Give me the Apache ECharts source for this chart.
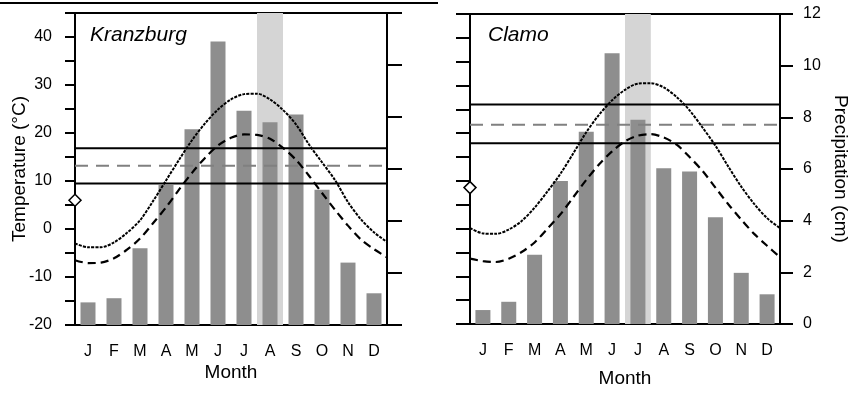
<!DOCTYPE html>
<html><head><meta charset="utf-8">
<script src="https://cdn.jsdelivr.net/npm/echarts@6/dist/echarts.min.js"></script>
<style>html,body{margin:0;padding:0;background:#fff}#c{width:851px;height:393px}</style>
</head><body><div id="c"></div>
<script>
// ---- data ----
const months = ['J','F','M','A','M','J','J','A','S','O','N','D'];
// month positions (1 = J centre) at which the curves were read, every half month
const curveX = [0.5,1,1.5,2,2.5,3,3.5,4,4.5,5,5.5,6,6.5,7,7.5,8,8.5,9,9.5,10,10.5,11,11.5,12,12.5];

const kranzName = 'Kranzburg';
const kranzPrecip = [0.87,1.03,2.95,5.38,7.53,10.9,8.24,7.8,8.1,5.2,2.4,1.22];
const kranzMax = [-3.0,-3.8,-3.8,-2.8,-0.8,1.8,5.8,10.1,14.4,18.5,22.0,24.9,27.0,28.1,28.2,27.0,24.8,21.8,17.6,13.9,10.2,5.6,2.0,-0.7,-2.7];
const kranzMin = [-6.5,-7.1,-7.0,-6.1,-4.3,-2.0,1.2,4.5,8.2,11.7,14.8,17.4,19.0,19.7,19.6,18.8,16.9,14.4,11.1,7.5,4.0,0.7,-2.2,-4.2,-5.9];
const kranzLines = [16.8,13.2,9.5];       // upper solid, dashed, lower solid
const kranzDiamond = 6.0;
const kranzHighlight = 7;                 // August

const clamoName = 'Clamo';
const clamoPrecip = [0.54,0.86,2.68,5.54,7.44,10.48,7.91,6.03,5.9,4.13,1.98,1.15];
const clamoMax = [0.1,-1.0,-1.1,-0.2,1.6,4.4,7.8,11.5,15.8,20.2,23.9,26.9,29.1,30.4,30.5,29.6,27.6,24.8,21.2,17.4,13.0,8.8,5.2,2.2,0.1];
const clamoMin = [-6.3,-6.8,-7.0,-6.3,-4.9,-2.9,0.0,3.0,6.6,10.2,13.5,16.2,18.3,19.5,19.8,19.1,17.6,15.0,12.1,8.6,5.1,1.9,-1.1,-3.6,-6.0];
const clamoLines = [26.0,21.8,17.9];
const clamoDiamond = 8.6;
const clamoHighlight = 6;                 // July

const tempTicks = {min:-20, max:45, interval:5};
const precipTicks = {min:0, max:12, interval:2};

// ---- chart ----
const FONT = 'Liberation Sans';
const BLK = '#000';
const axLine = {show:true, onZero:false, lineStyle:{color:BLK, width:2}};
const panels = [
  {name:kranzName, precip:kranzPrecip, tmax:kranzMax, tmin:kranzMin, lines:kranzLines, dia:kranzDiamond, hl:kranzHighlight,
   grid:{left:75, top:13, width:312, height:312}, leftTick:10, rightTick:15, monthGap:38, titlePos:[90,25]},
  {name:clamoName, precip:clamoPrecip, tmax:clamoMax, tmin:clamoMin, lines:clamoLines, dia:clamoDiamond, hl:clamoHighlight,
   grid:{left:470, top:14, width:312, height:312}, leftTick:14, rightTick:13, monthGap:45, titlePos:[488,25]}
];

const grid=[], xAxis=[], yAxis=[], series=[], graphic=[];
panels.forEach((p,g)=>{
  grid.push(Object.assign({show:true, borderColor:BLK, borderWidth:2, backgroundColor:'transparent'}, p.grid));
  xAxis.push({type:'category', gridIndex:g, data:months, boundaryGap:true, axisLine:axLine,
    axisTick:{alignWithLabel:true, length:10, lineStyle:{color:BLK, width:2}},
    axisLabel:{color:BLK, fontSize:16, fontFamily:FONT, margin:19, interval:0},
    name:'Month', nameLocation:'middle', nameGap:p.monthGap, nameMoveOverlap:false,
    nameTextStyle:{color:BLK, fontSize:19, fontFamily:FONT}});
  xAxis.push({type:'value', gridIndex:g, min:0.5, max:12.5, show:false});
  xAxis.push({type:'category', gridIndex:g, data:months, show:false});
  yAxis.push({type:'value', gridIndex:g, position:'left', min:tempTicks.min, max:tempTicks.max, interval:tempTicks.interval,
    axisLine:axLine, axisTick:{show:true, length:p.leftTick, lineStyle:{color:BLK, width:2}},
    axisLabel:{show:g===0, color:BLK, fontSize:16, fontFamily:FONT, margin:23, formatter:v=> (v%10===0? String(v):'')},
    splitLine:{show:false},
    name:g===0?'Temperature (°C)':'', nameLocation:'middle', nameRotate:90, nameGap:46, nameMoveOverlap:false,
    nameTextStyle:{color:BLK, fontSize:19, fontFamily:FONT}});
  yAxis.push({type:'value', gridIndex:g, position:'right', min:precipTicks.min, max:precipTicks.max, interval:precipTicks.interval,
    axisLine:axLine, axisTick:{show:true, length:p.rightTick, lineStyle:{color:BLK, width:2}},
    axisLabel:{show:g===1, color:BLK, fontSize:16, fontFamily:FONT, margin:23},
    splitLine:{show:false},
    name:g===1?'Precipitation (cm)':'', nameLocation:'middle', nameRotate:-90, nameGap:51, nameMoveOverlap:false,
    nameTextStyle:{color:BLK, fontSize:19, fontFamily:FONT}});
  const xc = g*3, xv = g*3+1, xh = g*3+2, yt = g*2, yp = g*2+1;
  // highlight band
  series.push({type:'bar', xAxisIndex:xh, yAxisIndex:yp, barWidth:'100%', silent:true,
    itemStyle:{color:'#d5d5d5'},
    data:months.map((m,i)=> i===p.hl ? precipTicks.max : '-')});
  // precipitation bars
  series.push({type:'bar', xAxisIndex:xc, yAxisIndex:yp, barWidth:15,
    itemStyle:{color:'#8e8e8e'}, data:p.precip});
  // horizontal reference lines
  const hStyles = [
    {color:BLK, width:2, type:'solid'},
    {color:'#808080', width:2, type:[13,8]},
    {color:BLK, width:2, type:'solid'}
  ];
  p.lines.forEach((v,i)=>{
    series.push({type:'line', xAxisIndex:xv, yAxisIndex:yt, symbol:'none', silent:true,
      lineStyle:hStyles[i], data:[[0.5,v],[12.5,v]]});
  });
  // curves
  series.push({type:'line', xAxisIndex:xv, yAxisIndex:yt, symbol:'none', smooth:0.3,
    lineStyle:{color:BLK, width:2, type:[3,1.2]}, data:curveX.map((x,i)=>[x,p.tmax[i]])});
  series.push({type:'line', xAxisIndex:xv, yAxisIndex:yt, symbol:'none', smooth:0.3,
    lineStyle:{color:BLK, width:2.2, type:[8,5]}, data:curveX.map((x,i)=>[x,p.tmin[i]])});
  // diamond
  series.push({type:'scatter', xAxisIndex:xv, yAxisIndex:yt, symbol:'diamond', symbolSize:12, z:5,
    itemStyle:{color:'#fff', opacity:1, borderColor:BLK, borderWidth:1.5}, data:[[0.5,p.dia]]});
  graphic.push({type:'text', left:p.titlePos[0], top:p.titlePos[1],
    style:{text:p.name, font:'italic 21px "Liberation Sans"', fill:BLK}});
});
graphic.push({type:'line', shape:{x1:0, y1:3, x2:438, y2:3}, style:{stroke:BLK, lineWidth:2}});

const chart = echarts.init(document.getElementById('c'), null, {renderer:'canvas'});
chart.setOption({animation:false, backgroundColor:'#fff', grid, xAxis, yAxis, series, graphic});
</script>
</body></html>
